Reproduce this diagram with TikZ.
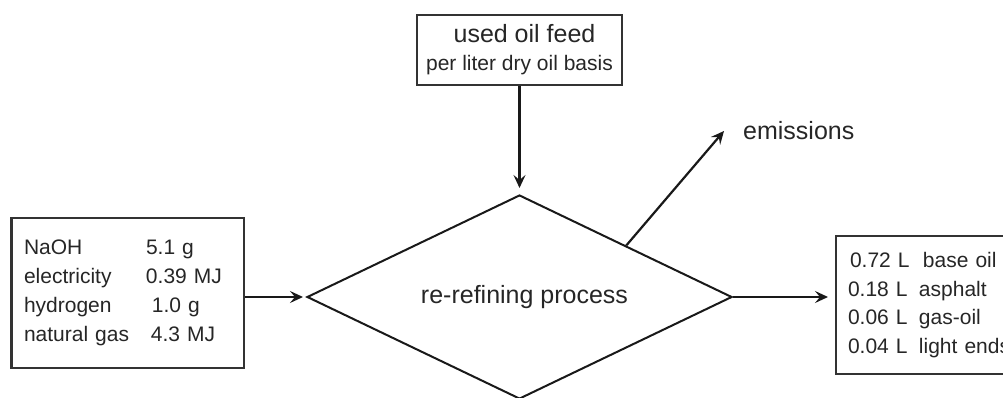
\documentclass[tikz,border=0pt]{standalone}
\usepackage{fontspec}
\setmainfont{Liberation Sans}
\usetikzlibrary{shapes.geometric,arrows.meta,calc}

\begin{document}
\begin{tikzpicture}[x=1pt,y=-1pt,
  box/.style={draw=black!80, line width=2pt, rectangle, inner sep=0pt},
  flow/.style={draw=black!90, line width=2.2pt, -{Stealth[length=13pt,width=12pt,inset=5pt]}},
  bigtext/.style={font=\fontsize{25}{30}\selectfont},
  smalltext/.style={font=\fontsize{21}{26}\selectfont},
  ink/.style={text=black!85}]
\useasboundingbox (0,0) rectangle (1003,398);

% feed box on top
\node[box, ink, minimum width=205pt, minimum height=70pt, align=center,
      font=\fontsize{21}{28}\selectfont] (feed) at (519.5,50)
  {{\fontsize{25}{28}\selectfont\hspace{10pt}used oil feed}\\
   per liter dry oil basis};

% central process
\node[draw=black!90, diamond, shape aspect=2.1, line width=2pt, minimum width=425pt,
      minimum height=204pt, inner sep=0pt, bigtext, ink] (process) at (519.5,297)
  {\hspace{10pt}re-refining process};

% inputs
\node[box, ink, smalltext, minimum height=150pt, text width=208pt, inner xsep=12pt, align=left]
  (inputs) at (128,293)
  {\makebox[122pt][l]{NaOH}5.1 g\\[3pt]
   \makebox[122pt][l]{electricity}0.39 MJ\\[3pt]
   \makebox[122pt][l]{hydrogen}\hspace{6pt}1.0 g\\[3pt]
   \makebox[122pt][l]{natural gas}\hspace{5pt}4.3 MJ};
\draw[black!80, line width=3pt] (inputs.north west) -- (inputs.south west);

% outputs
\node[box, ink, smalltext, minimum height=138pt, text width=173pt, inner xsep=12pt, align=left]
  (outputs) at (934.5,305)
  {\hspace{2pt}\makebox[71pt][l]{0.72 L}\hspace{2pt}base oil\\[2.5pt]
   \makebox[71pt][l]{0.18 L}asphalt\\[2.5pt]
   \makebox[71pt][l]{0.06 L}gas-oil\\[2.5pt]
   \makebox[71pt][l]{0.04 L}light ends};

% emissions
\node[bigtext, ink, anchor=west, inner sep=0pt] (emissions) at (743,131) {emissions};
\coordinate (emitfoot) at ($(process.north)!0.5!(process.east)$);
\coordinate (emittip) at (724,131);

% connectors
\draw[flow, shorten >=6pt] (feed.south) -- (process.north);
\draw[flow, shorten >=3pt] (process.west -| inputs.east) -- (process.west);
\draw[flow, shorten >=7pt] (process.east) -- (process.east -| outputs.west);
\draw[flow] (emitfoot) -- (emittip);
\end{tikzpicture}
\end{document}
